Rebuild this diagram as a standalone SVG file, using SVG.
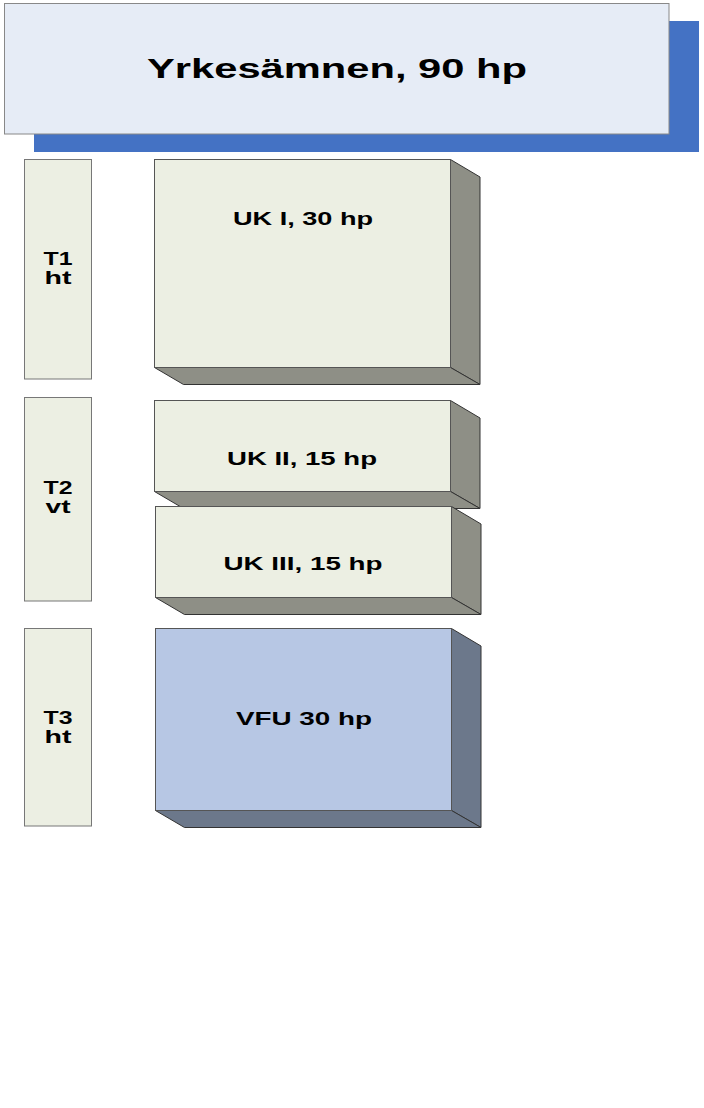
<svg xmlns="http://www.w3.org/2000/svg" width="704" height="1108" viewBox="0 0 704 1108">
<style>
.lbl{font-family:"Liberation Sans",Arial,sans-serif;font-weight:bold;fill:#000;text-anchor:middle}
.front{fill:#ECEFE3;stroke:#555;stroke-width:1}
.side{fill:#8E8F86;stroke:#333;stroke-width:1}
.vfront{fill:#B7C7E4;stroke:#555;stroke-width:1}
.vside{fill:#6C788B;stroke:#333;stroke-width:1}
.term{fill:#ECEFE3;stroke:#777;stroke-width:1}
</style>
<rect width="704" height="1108" fill="#fff"/>
<g id="header">
<rect x="34" y="21" width="665" height="131" fill="#4472C4"/>
<rect x="4.5" y="3.5" width="664.5" height="130.5" fill="#E6ECF6" stroke="#888" stroke-width="1"/>
<text class="lbl" x="337" y="78" font-size="27" textLength="380" lengthAdjust="spacingAndGlyphs">Yrkesämnen, 90 hp</text>
</g>
<g id="t1">
<rect class="term" x="24.5" y="159.5" width="67" height="219.5"/>
<text class="lbl" x="58" y="265" font-size="18" textLength="29" lengthAdjust="spacingAndGlyphs">T1</text>
<text class="lbl" x="58" y="284" font-size="18" textLength="27" lengthAdjust="spacingAndGlyphs">ht</text>
</g>
<g id="t2">
<rect class="term" x="24.5" y="397.5" width="67" height="203.5"/>
<text class="lbl" x="58" y="494" font-size="18" textLength="29" lengthAdjust="spacingAndGlyphs">T2</text>
<text class="lbl" x="58" y="513" font-size="18" textLength="25" lengthAdjust="spacingAndGlyphs">vt</text>
</g>
<g id="t3">
<rect class="term" x="24.5" y="628.5" width="67" height="197.5"/>
<text class="lbl" x="58" y="724" font-size="18" textLength="29" lengthAdjust="spacingAndGlyphs">T3</text>
<text class="lbl" x="58" y="743" font-size="18" textLength="27" lengthAdjust="spacingAndGlyphs">ht</text>
</g>
<g id="uk1">
<polygon class="side" points="450.5,159.5 480,177 480,384.5 450.5,367.5"/>
<polygon class="side" points="154.5,367.5 450.5,367.5 480,384.5 183.5,384.5"/>
<rect class="front" x="154.5" y="159.5" width="296" height="208"/>
<text class="lbl" x="303" y="225" font-size="19" textLength="140" lengthAdjust="spacingAndGlyphs">UK I, 30 hp</text>
</g>
<g id="uk2">
<polygon class="side" points="450.5,400.5 480,418 480,508.5 450.5,491.5"/>
<polygon class="side" points="154.5,491.5 450.5,491.5 480,508.5 183.5,508.5"/>
<rect class="front" x="154.5" y="400.5" width="296" height="91"/>
<text class="lbl" x="302" y="465" font-size="19" textLength="150" lengthAdjust="spacingAndGlyphs">UK II, 15 hp</text>
</g>
<g id="uk3">
<polygon class="side" points="451.5,506.5 481,524 481,614.5 451.5,597.5"/>
<polygon class="side" points="155.5,597.5 451.5,597.5 481,614.5 184.5,614.5"/>
<rect class="front" x="155.5" y="506.5" width="296" height="91"/>
<text class="lbl" x="303" y="570" font-size="19" textLength="159" lengthAdjust="spacingAndGlyphs">UK III, 15 hp</text>
</g>
<g id="vfu">
<polygon class="vside" points="451.5,628.5 481,646 481,827.5 451.5,810.5"/>
<polygon class="vside" points="155.5,810.5 451.5,810.5 481,827.5 184.5,827.5"/>
<rect class="vfront" x="155.5" y="628.5" width="296" height="182"/>
<text class="lbl" x="304" y="725" font-size="19" textLength="136" lengthAdjust="spacingAndGlyphs">VFU 30 hp</text>
</g>
<g id="connectors"></g>
</svg>
